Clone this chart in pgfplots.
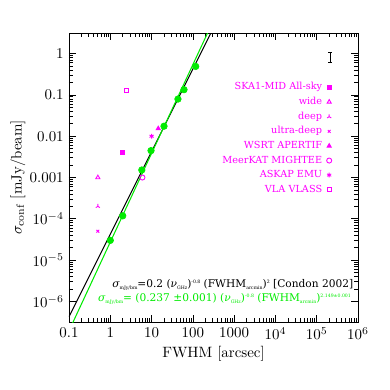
\documentclass[border=0pt]{standalone}
\usepackage{fontspec}
\usepackage{pgfplots}
\pgfplotsset{compat=1.18}
\usetikzlibrary{plotmarks}
\newfontfamily\dv{DejaVu Serif}
\definecolor{mag}{RGB}{255,0,255}
\definecolor{grn}{RGB}{0,235,0}
% tiny sub/superscripts for the fit formulae
\newcommand\lo[1]{\raisebox{-0.35ex}{\fontsize{3.1}{4}\selectfont #1}}
\newcommand\hi[1]{\raisebox{0.75ex}{\fontsize{3.1}{4}\selectfont #1}}

\begin{document}
\begin{tikzpicture}
\begin{axis}[
  at={(0,0)}, anchor=south west,
  scale only axis, width=192.7bp, height=192.7bp,
  xmode=log, ymode=log,
  xmin=0.1, xmax=1e6, ymin=3.16e-7, ymax=3.16,
  xtick={0.1,1,10,100,1000,1e4,1e5,1e6},
  xticklabels={0.1,1,10,100,1000,$10^4$,$10^5$,$10^6$},
  ytick={1e-6,1e-5,1e-4,0.001,0.01,0.1,1},
  yticklabels={$10^{-6}$,$10^{-5}$,$10^{-4}$,0.001,0.01,0.1,1},
  major tick length=5bp, minor tick length=2.5bp,
  tick style={black, line width=0.5pt},
  xlabel={FWHM [arcsec]},
  ylabel={$\sigma_{\mathrm{conf}}$ [mJy/beam]},
  xlabel style={at={(axis description cs:0.5,-0.11)}, anchor=center},
  ylabel style={at={(axis description cs:-0.177,0.5)}, anchor=center},
  legend plot pos=right, legend cell align=right,
  legend style={draw=none, fill=none, text=mag, font=\dv\fontsize{6.5}{7.5}\selectfont,
    at={(axis description cs:0.91,0.835)}, anchor=north east,
    row sep=1.4pt, column sep=2bp, inner sep=0pt, nodes={inner sep=1pt}},
  mag/.style={only marks, color=mag, mark options={draw=mag, fill=mag, line width=0.6pt}},
]
% Condon 2002 relation and fit (nu = 1.4 GHz)
\addplot[black, line width=0.7pt, forget plot] coordinates {(0.1,4.244e-7) (1000,42.44)};
\addplot[grn, line width=0.7pt, forget plot] coordinates {(0.1,1.94e-7) (1000,76.5)};
% measured points
\addplot[only marks, mark=*, mark size=2.2pt, grn, forget plot] coordinates {
(1,3.0e-5) (2,1.18e-4) (5.8,1.52e-3) (9.7,4.48e-3) (20,0.0175) (43.5,0.0794) (61,0.134) (117,0.49)};
% typical error bar
\addplot[draw=none, mark=none, forget plot,
  error bars/.cd, y dir=both, y explicit,
  error bar style={draw=black, line width=0.6pt},
  error mark options={draw=black, rotate=90, mark size=1.2pt, line width=0.6pt}]
  coordinates {(2.1e5,0.8) += (0,0.27) -= (0,0.19)};
% surveys
\addplot[mag, mark=square*, mark size=1.2pt] coordinates {(2,0.004)};
\addlegendentry{SKA1-MID All-sky}
\addplot[mag, mark=triangle, mark size=1.6pt] coordinates {(0.5,0.001)};
\addlegendentry{wide}
\addplot[mag, mark=Mercedes star, mark size=1.6pt] coordinates {(0.5,2e-4)};
\addlegendentry{deep}
\addplot[mag, mark=x, mark size=1.3pt] coordinates {(0.5,5e-5)};
\addlegendentry{ultra-deep}
\addplot[mag, mark=triangle*, mark size=1.6pt] coordinates {(14.5,0.0153)};
\addlegendentry{WSRT APERTIF}
\addplot[mag, mark=o, mark size=1.7pt] coordinates {(6,0.001)};
\addlegendentry{MeerKAT MIGHTEE}
\addplot[mag, mark=asterisk, mark size=1.6pt] coordinates {(10,0.01)};
\addlegendentry{ASKAP EMU}
\addplot[mag, mark=square*, mark size=1.3pt, mark options={fill=white},
  legend image post style={draw=mag, mark options={draw=mag, fill=white}}] coordinates {(2.4,0.128)};
\addlegendentry{\textcolor{mag}{VLA VLASS}}
% formulae
\node[anchor=west, font=\dv\fontsize{7.1}{8}\selectfont, black, inner sep=0pt]
  at (rel axis cs:0.149,0.128)
  {{\itshape σ}\lo{mJy/bm}=0.2 ({\itshape ν}\lo{GHz})\hi{-0.8} (FWHM\lo{arcmin})\hi{2} [Condon 2002]};
\node[anchor=west, font=\dv\fontsize{7.1}{8}\selectfont, text=grn, inner sep=0pt]
  at (rel axis cs:0.100,0.080)
  {{\itshape σ}\lo{mJy/bm}= (0.237 ±0.001) ({\itshape ν}\lo{GHz})\hi{-0.8} (FWHM\lo{arcmin})\hi{2.149±0.001}};
\end{axis}
\pgfresetboundingbox
\path[use as bounding box] (-46bp,-45.3bp) rectangle (214bp,214.7bp);
\end{tikzpicture}
\end{document}
